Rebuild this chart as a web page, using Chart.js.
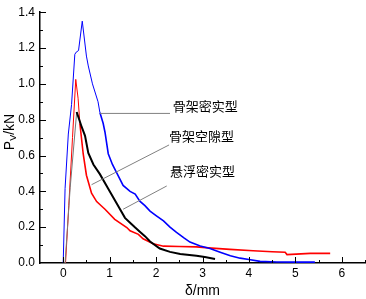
<!DOCTYPE html>
<html>
<head>
<meta charset="utf-8">
<script src="https://cdn.jsdelivr.net/npm/chart.js@4.4.1/dist/chart.umd.min.js"></script>
<style>
  body { margin: 0; background: #fff; }
  canvas { display: block; }
</style>
</head>
<body>
<canvas id="pvChart" width="366" height="299"></canvas>
<script>
// load-displacement curves (δ in mm, P in kN)
const denseSkelX = [0.00, 0.04, 0.11, 0.18, 0.25, 0.28, 0.33, 0.41, 0.50, 0.54, 0.63, 0.75, 0.79, 0.86, 0.90, 0.97, 1.06, 1.15, 1.29, 1.44, 1.55, 1.65, 1.76, 1.87, 2.00, 2.16, 2.30, 2.44, 2.60, 2.73, 2.95, 3.16, 3.38, 3.60, 3.81, 4.00, 4.24, 4.60, 5.00, 5.42];
const denseSkelY = [0.00, 0.415, 0.72, 0.885, 1.165, 1.177, 1.186, 1.35, 1.155, 1.10, 1.00, 0.90, 0.84, 0.78, 0.73, 0.61, 0.55, 0.505, 0.433, 0.40, 0.385, 0.345, 0.32, 0.29, 0.265, 0.235, 0.20, 0.171, 0.14, 0.117, 0.095, 0.081, 0.06, 0.04, 0.027, 0.02, 0.009, 0.006, 0.005, 0.005];

const voidSkelX = [0.00, 0.04, 0.15, 0.29, 0.40, 0.47, 0.54, 0.65, 0.79, 0.97, 1.15, 1.33, 1.44, 1.55, 1.65, 1.76, 1.87, 2.08, 2.30, 2.52, 2.87, 3.05, 3.27];
const voidSkelY = [0.00, 0.00, 0.42, 0.843, 0.758, 0.71, 0.614, 0.55, 0.496, 0.415, 0.334, 0.252, 0.225, 0.198, 0.175, 0.15, 0.12, 0.081, 0.062, 0.05, 0.04, 0.033, 0.022];

const suspDenseX = [0.05, 0.12, 0.20, 0.27, 0.32, 0.36, 0.43, 0.50, 0.61, 0.72, 0.90, 1.11, 1.37, 1.44, 1.62, 1.72, 1.94, 2.16, 2.50, 2.87, 3.20, 3.59, 4.09, 4.50, 4.78, 4.82, 5.32, 5.75];
const suspDenseY = [0.00, 0.32, 0.70, 1.025, 0.92, 0.776, 0.61, 0.49, 0.39, 0.343, 0.30, 0.244, 0.198, 0.18, 0.16, 0.135, 0.108, 0.094, 0.092, 0.09, 0.083, 0.076, 0.068, 0.063, 0.06, 0.047, 0.054, 0.054];

const xTickValues = [0, 1, 2, 3, 4, 5, 6];
const yTickValues = [0, 0.2, 0.4, 0.6, 0.8, 1.0, 1.2, 1.4];

// leader labels: text, text anchor (data units), leader line from -> to
const labelTexts = ['骨架密实型', '骨架空隙型', '悬浮密实型'];
const labelAt = [[2.36, 0.875], [2.28, 0.707], [2.30, 0.515]];
const leaderFrom = [[0.79, 0.835], [0.61, 0.437], [1.29, 0.30]];
const leaderTo = [[2.30, 0.835], [2.28, 0.659], [2.23, 0.43]];

function toPoints(xs, ys) {
  return xs.map((x, i) => ({ x: x, y: ys[i] }));
}

// the steep early part of each curve is drawn thinner, like the original
function thinUntil(xLimit, thin, thick) {
  return (c) => (c.p1.parsed.x <= xLimit ? thin : thick);
}

const axisFont = 'Arial, "Liberation Sans", sans-serif';

const decorPlugin = {
  id: 'decor',
  afterDraw(chart) {
    const ctx = chart.ctx;
    const xs = chart.scales.x;
    const ys = chart.scales.y;
    const area = chart.chartArea;
    ctx.save();
    ctx.strokeStyle = '#000';
    ctx.lineWidth = 1;

    // inward ticks on x axis (major 1, minor 0.5)
    for (let v = xs.min; v <= xs.max + 1e-9; v += 0.5) {
      const px = Math.round(xs.getPixelForValue(v)) + 0.5;
      const len = Number.isInteger(v) ? 6 : 3;
      if (px <= area.left + 1) continue;
      ctx.beginPath();
      ctx.moveTo(px, area.bottom);
      ctx.lineTo(px, area.bottom - len);
      ctx.stroke();
    }
    // inward ticks on y axis (major 0.2, minor 0.1)
    for (let i = 1; i <= 14; i++) {
      const v = i * 0.1;
      const py = Math.round(ys.getPixelForValue(v)) + 0.5;
      const len = i % 2 === 0 ? 6 : 3;
      ctx.beginPath();
      ctx.moveTo(area.left, py);
      ctx.lineTo(area.left + len, py);
      ctx.stroke();
    }

    // axis titles
    ctx.fillStyle = '#000';
    ctx.textBaseline = 'middle';
    ctx.textAlign = 'center';
    ctx.font = '14px ' + axisFont;
    ctx.fillText('δ/mm', (area.left + area.right) / 2, 291);

    ctx.save();
    ctx.translate(10, 132);
    ctx.rotate(-Math.PI / 2);
    ctx.textAlign = 'left';
    const bigFont = '14px ' + axisFont;
    const smallFont = '9px ' + axisFont;
    ctx.font = bigFont;
    const wP = ctx.measureText('P').width;
    const wRest = ctx.measureText('/kN').width;
    ctx.font = smallFont;
    const wV = ctx.measureText('V').width;
    let x0 = -(wP + wV + wRest) / 2;
    ctx.font = bigFont;
    ctx.fillText('P', x0, 0);
    ctx.font = smallFont;
    ctx.fillText('V', x0 + wP, 4);
    ctx.font = bigFont;
    ctx.fillText('/kN', x0 + wP + wV, 0);
    ctx.restore();

    // leader lines and curve labels
    ctx.strokeStyle = '#808080';
    ctx.lineWidth = 1;
    for (let i = 0; i < labelTexts.length; i++) {
      ctx.beginPath();
      ctx.moveTo(xs.getPixelForValue(leaderFrom[i][0]), ys.getPixelForValue(leaderFrom[i][1]));
      ctx.lineTo(xs.getPixelForValue(leaderTo[i][0]), ys.getPixelForValue(leaderTo[i][1]));
      ctx.stroke();
    }
    ctx.fillStyle = '#000';
    ctx.textAlign = 'left';
    ctx.font = '13px "Noto Sans CJK SC", sans-serif';
    for (let i = 0; i < labelTexts.length; i++) {
      ctx.fillText(labelTexts[i], xs.getPixelForValue(labelAt[i][0]), ys.getPixelForValue(labelAt[i][1]));
    }
    ctx.restore();
  }
};

const ctx = document.getElementById('pvChart');
const pvChart = new Chart(ctx, {
  type: 'line',
  data: {
    datasets: [{
      label: '骨架密实型',
      data: toPoints(denseSkelX, denseSkelY),
      borderColor: '#0000ff',
      borderWidth: 1.6,
      segment: { borderWidth: thinUntil(0.8, 1, 1.6) },
      pointRadius: 0,
      tension: 0
    }, {
      label: '骨架空隙型',
      data: toPoints(voidSkelX, voidSkelY),
      borderColor: '#000000',
      borderWidth: 2,
      segment: {
        borderWidth: thinUntil(0.29, 1, 2),
        borderColor: (c) => (c.p1.parsed.x <= 0.29 ? '#777777' : '#000000')
      },
      pointRadius: 0,
      tension: 0
    }, {
      label: '悬浮密实型',
      data: toPoints(suspDenseX, suspDenseY),
      borderColor: '#ff0000',
      borderWidth: 1.6,
      segment: { borderWidth: thinUntil(0.36, 1, 1.6) },
      pointRadius: 0,
      tension: 0
    }]
  },
  options: {
    responsive: false,
    animation: false,
    layout: { padding: { top: 5, right: 1, left: 0, bottom: 0 } },
    plugins: {
      legend: { display: false },
      tooltip: { enabled: false }
    },
    scales: {
      x: {
        type: 'linear',
        min: -0.5,
        max: 6.5,
        afterBuildTicks: (scale) => { scale.ticks = xTickValues.map(v => ({ value: v })); },
        afterFit: (scale) => { scale.height = 36; },
        ticks: {
          color: '#000',
          padding: 3,
          font: { family: axisFont, size: 12 },
          maxRotation: 0,
          autoSkip: false
        },
        grid: { display: false, drawTicks: false, tickLength: 0 },
        border: { display: true, color: '#000', width: 1.5 }
      },
      y: {
        min: 0,
        max: 1.4,
        afterBuildTicks: (scale) => { scale.ticks = yTickValues.map(v => ({ value: v })); },
        afterFit: (scale) => { scale.width = 40; },
        ticks: {
          color: '#000',
          padding: 5,
          font: { family: axisFont, size: 12 },
          callback: (v) => Number(v).toFixed(1),
          autoSkip: false
        },
        grid: { display: false, drawTicks: false, tickLength: 0 },
        border: { display: true, color: '#000', width: 1.5 }
      }
    }
  },
  plugins: [decorPlugin]
});
</script>
</body>
</html>
